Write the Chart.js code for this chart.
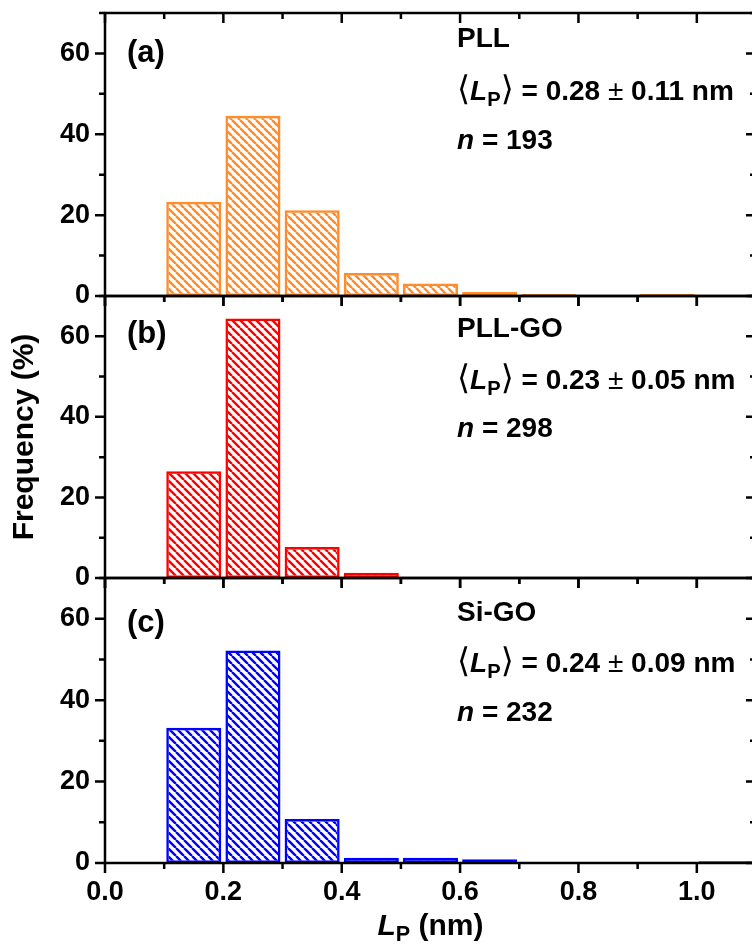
<!DOCTYPE html>
<html>
<head>
<meta charset="utf-8">
<script src="https://cdn.jsdelivr.net/npm/chart.js@4.4.1/dist/chart.umd.min.js"></script>
<style>
  html, body { margin: 0; padding: 0; background: #fff; overflow: hidden; }
  #wrap { position: relative; width: 752px; height: 945px; overflow: hidden; background: #fff; }
  #wrap canvas { position: absolute; left: 0; top: 0; }
  .note { position: absolute; font-family: "Liberation Sans", Arial, sans-serif; font-weight: bold;
          line-height: 1; white-space: nowrap; color: #000; }
  .note i { font-style: italic; }
  .note sub { font-size: 0.72em; vertical-align: -0.28em; line-height: 1; font-style: normal; }
  .ang { font-family: "DejaVu Sans", sans-serif; font-weight: normal; font-size: 1.2em; line-height: 1; }
  .pm { font-weight: normal; }
</style>
</head>
<body>
<div id="wrap">
  <canvas id="pa" width="770" height="945"></canvas>
  <canvas id="pb" width="770" height="945"></canvas>
  <canvas id="pc" width="770" height="945"></canvas>
</div>
<script>
// bins of 0.1 nm, centres
const binCenters = [0.15, 0.25, 0.35, 0.45, 0.55, 0.65, 0.75, 0.85, 0.95, 1.05];
const pll   = [23.3, 44.6, 21.2, 5.7, 3.1, 1.0, 0.5, 0, 0.5, 0];
const pllGo = [26.5, 64.4, 7.7, 1.3, 0, 0, 0, 0, 0, 0];
const siGo  = [33.2, 52.2, 10.8, 1.3, 1.3, 0.9, 0, 0, 0, 0.4];

const yTickLabels = [0, 20, 40, 60];
const xTickLabels = ['0.0', '0.2', '0.4', '0.6', '0.8', '1.0'];

const letters = ['(a)', '(b)', '(c)'];
const names = ['PLL', 'PLL-GO', 'Si-GO'];
const means = ['0.28', '0.23', '0.24'];
const sds = ['0.11', '0.05', '0.09'];
const counts = [193, 298, 232];

Chart.defaults.font.family = "'Liberation Sans', Arial, sans-serif";
Chart.defaults.font.weight = 'bold';
Chart.defaults.color = '#000';

function hatch(ctx, color) {
  const s = 8;
  const c = document.createElement('canvas');
  c.width = s; c.height = s;
  const g = c.getContext('2d');
  g.strokeStyle = color;
  g.lineWidth = 2.4;
  g.beginPath();
  for (let k = -1; k <= 1; k++) {
    g.moveTo(k * s, 0);
    g.lineTo(k * s + s, s);
  }
  g.stroke();
  return ctx.createPattern(c, 'repeat');
}

// frame + inward/outward ticks, from the chart's own scales
const frame = {
  id: 'frame',
  afterDatasetsDraw(chart) {
    const { ctx, chartArea: a, scales: { x, y } } = chart;
    ctx.save();
    ctx.strokeStyle = '#000';
    ctx.lineWidth = 2.5;
    ctx.beginPath();
    for (let v = 0; v <= 70; v += 10) {
      const py = y.getPixelForValue(v);
      const len = v % 20 === 0 ? 10 : 6;
      ctx.moveTo(a.left - len, py); ctx.lineTo(a.left, py);
      ctx.moveTo(a.right - len, py); ctx.lineTo(a.right, py);
    }
    for (let i = 0; i <= 11; i++) {
      const px = x.getPixelForValue(i / 10);
      const len = i % 2 === 0 ? 10 : 6;
      ctx.moveTo(px, a.top); ctx.lineTo(px, a.top + len);
      ctx.moveTo(px, a.bottom); ctx.lineTo(px, a.bottom + len);
    }
    ctx.stroke();
    ctx.strokeRect(a.left, a.top, a.right - a.left, a.bottom - a.top);
    ctx.restore();
  }
};

function panel(id, values, color, top, bottom, showX, showYTitle) {
  const ctx = document.getElementById(id).getContext('2d');
  return new Chart(ctx, {
    type: 'bar',
    data: {
      datasets: [{
        data: binCenters.map((c, i) => ({ x: c, y: values[i] })),
        backgroundColor: hatch(ctx, color),
        borderColor: color,
        borderWidth: 2.5,
        borderSkipped: false,
        barPercentage: 0.93,
        categoryPercentage: 1
      }]
    },
    options: {
      responsive: false,
      animation: false,
      devicePixelRatio: 1,
      events: [],
      layout: { padding: { left: 0, right: 14, top: top, bottom: showX ? 0 : 945 - bottom } },
      plugins: { legend: { display: false }, tooltip: { enabled: false } },
      scales: {
        x: {
          type: 'linear',
          min: 0, max: 1.1,
          offset: false,
          display: showX,
          afterFit: s => { s.height = showX ? 945 - bottom : 0; s.paddingLeft = 0; s.paddingRight = 0; },
          grid: { display: false, drawTicks: false, offset: false },
          border: { display: false },
          ticks: {
            stepSize: 0.1, autoSkip: false, maxRotation: 0, padding: 13,
            font: { size: 27, weight: 'bold' },
            callback: v => {
              const lab = (Math.round(v * 10) / 10).toFixed(1);
              return xTickLabels.includes(lab) ? lab : '';
            }
          }
        },
        y: {
          min: 0, max: 70,
          afterFit: s => { s.width = 105; s.paddingTop = 0; s.paddingBottom = 0; },
          grid: { display: false, drawTicks: false },
          border: { display: false },
          ticks: {
            stepSize: 10, autoSkip: false, padding: 15,
            font: { size: 27, weight: 'bold' },
            callback: v => yTickLabels.includes(v) ? v : ''
          },
          title: {
            display: showYTitle, text: 'Frequency (%)',
            font: { size: 30, weight: 'bold' },
            padding: { top: 7, bottom: 0 }
          }
        }
      }
    },
    plugins: [frame]
  });
}

panel('pa', pll, '#ff8b2b', 13, 296, false, false);
panel('pb', pllGo, '#ff0000', 296, 578, false, true);
panel('pc', siGo, '#0000ff', 578, 863, true, false);

// annotations
const wrap = document.getElementById('wrap');
function note(html, x, baseline, size, width) {
  const d = document.createElement('div');
  d.className = 'note';
  d.style.left = x + 'px';
  d.style.top = (baseline - 0.8465 * size) + 'px';
  d.style.fontSize = size + 'px';
  if (width) { d.style.width = width + 'px'; d.style.textAlign = 'center'; }
  d.innerHTML = html;
  wrap.appendChild(d);
}

const letterBase = [62, 343, 632];
const nameBase = [48, 338, 622];
const statBase = [96, 385, 668];
const nBase = [150, 438, 722];

for (let i = 0; i < 3; i++) {
  note(letters[i], 127, letterBase[i], 31);
  note(names[i], 457, nameBase[i], 28);
  note('<span class="ang">\u27E8</span><i>L</i><sub>P</sub><span class="ang">\u27E9</span> = ' +
       means[i] + ' <span class="pm">\u00B1</span> ' + sds[i] + ' nm', 457, statBase[i], 28);
  note('<i>n</i> = ' + counts[i], 457, nBase[i], 28);
}
note('<i>L</i><sub>P</sub> (nm)', 105, 935, 30, 651);
</script>
</body>
</html>
